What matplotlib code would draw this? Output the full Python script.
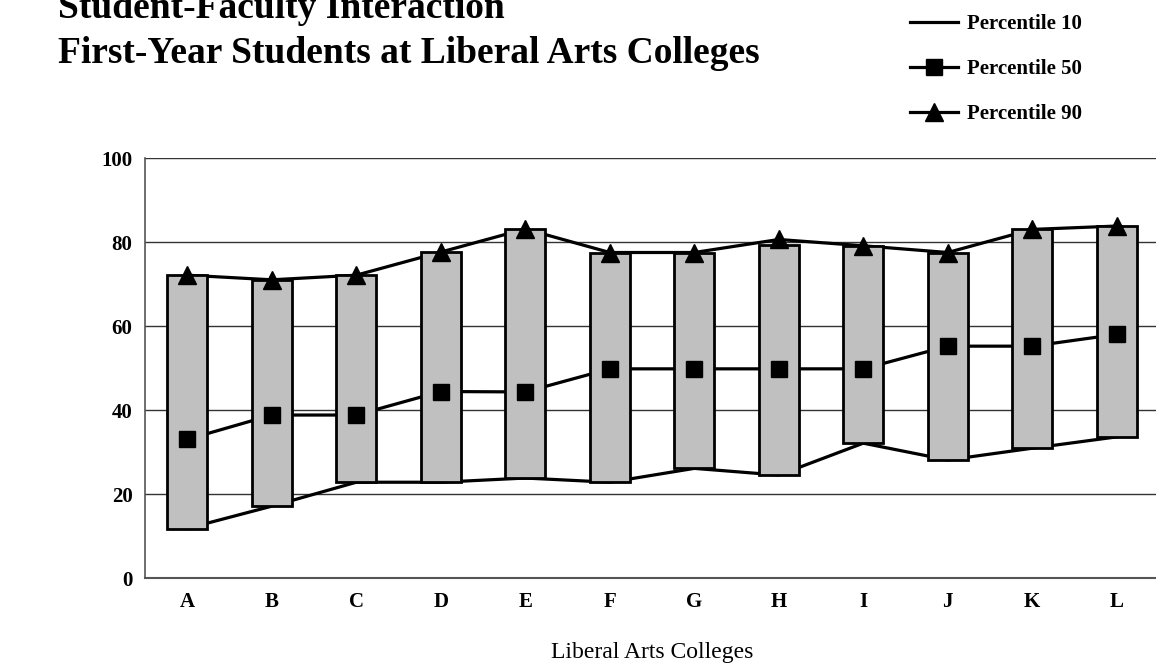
import matplotlib.pyplot as plt
from matplotlib.lines import Line2D

colleges = ["A", "B", "C", "D", "E", "F", "G", "H", "I", "J", "K", "L"]
p10 = [11.8, 17.1, 22.8, 22.8, 23.8, 22.8, 26.1, 24.5, 32.1, 28.1, 30.9, 33.6]
p50 = [33.0, 38.8, 38.8, 44.4, 44.3, 49.8, 49.8, 49.8, 49.8, 55.2, 55.2, 58.0]
p90 = [72.1, 71.0, 72.1, 77.6, 83.1, 77.5, 77.5, 80.6, 79.1, 77.5, 83.0, 83.8]
bar_low = [11.6, 17.1, 22.8, 22.8, 23.8, 22.8, 26.1, 24.5, 32.1, 28.1, 30.9, 33.6]
bar_high = [72.1, 71.0, 72.1, 77.6, 83.1, 77.5, 77.5, 79.3, 79.1, 77.5, 83.0, 83.8]

serif = ["Liberation Serif", "DejaVu Serif"]
plt.rcParams["font.family"] = serif

fig = plt.figure(figsize=(11.56, 6.65), dpi=100)
ax = fig.add_axes([145 / 1156, 87 / 665, 1014 / 1156, 420 / 665])

x = list(range(len(colleges)))
heights = [h - l for h, l in zip(bar_high, bar_low)]

# connecting lines sit behind the bars, markers on top
ax.plot(x, p10, color="black", lw=2.3, zorder=2)
ax.plot(x, p50, color="black", lw=2.3, zorder=2)
ax.plot(x, p90, color="black", lw=2.3, zorder=2)
ax.bar(x, heights, bottom=bar_low, width=0.47, color="#c0c0c0",
       edgecolor="black", linewidth=2.0, zorder=3)
ax.plot(x, p50, ls="none", marker="s", ms=12, color="black", zorder=4)
ax.plot(x, p90, ls="none", marker="^", ms=13, color="black", zorder=4)

ax.set_xlim(-0.5, 11.5)
ax.set_ylim(0, 100)
ax.set_yticks([0, 20, 40, 60, 80, 100])
ax.set_xticks(x)
ax.set_xticklabels(colleges)
ax.tick_params(length=0, labelsize=15)
ax.tick_params(axis="y", pad=9)
ax.tick_params(axis="x", pad=10)
for lab in ax.get_xticklabels() + ax.get_yticklabels():
    lab.set_fontweight("bold")
ax.grid(axis="y", color="#333333", lw=1.0, zorder=1)
ax.spines["right"].set_visible(False)
ax.spines["top"].set_visible(False)
ax.spines["left"].set_color("#555555")
ax.spines["bottom"].set_color("#555555")
ax.spines["left"].set_linewidth(1.2)
ax.spines["bottom"].set_linewidth(1.5)
ax.set_xlabel("Liberal Arts Colleges", fontsize=17, labelpad=22)

fig.text(58 / 1156, 1 - 18 / 665, "Student-Faculty Interaction",
         fontsize=27, fontweight="bold", va="baseline", ha="left")
fig.text(58 / 1156, 1 - 63 / 665, "First-Year Students at Liberal Arts Colleges",
         fontsize=27, fontweight="bold", va="baseline", ha="left")

handles = [
    Line2D([], [], color="black", lw=2.3),
    Line2D([], [], color="black", lw=2.3, marker="s", ms=12),
    Line2D([], [], color="black", lw=2.3, marker="^", ms=13),
]
fig.legend(handles, ["Percentile 10", "Percentile 50", "Percentile 90"],
           loc="upper left", bbox_to_anchor=(910 / 1156, 1 - 14 / 665),
           frameon=False, prop={"family": serif, "weight": "bold", "size": 15},
           labelspacing=1.2, handlelength=2.3, handletextpad=0.45,
           borderaxespad=0, borderpad=0)

fig.savefig("out.png", dpi=100)
